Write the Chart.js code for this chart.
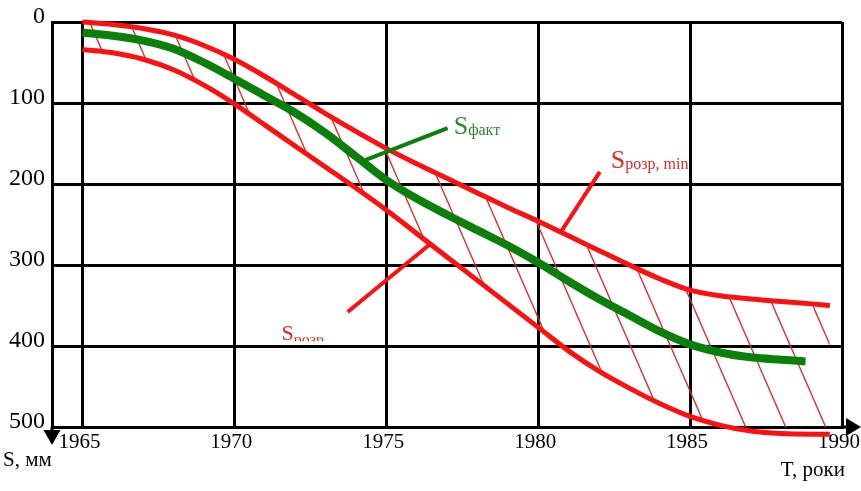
<!DOCTYPE html>
<html>
<head>
<meta charset="utf-8">
<script src="https://cdn.jsdelivr.net/npm/chart.js@4.4.1/dist/chart.umd.min.js"></script>
<style>
html,body{margin:0;padding:0;background:#fff;}
#wrap{width:861px;height:491px;position:relative;}
</style>
</head>
<body>
<div id="wrap"><canvas id="c" width="861" height="491"></canvas></div>
<script>
// ---- data ----
const xTicks = [1965, 1970, 1975, 1980, 1985, 1990];
const yTicks = [0, 100, 200, 300, 400, 500];

// S розр, min (upper red curve)
const sMinYears  = [1965, 1966, 1967, 1968, 1969, 1970, 1971, 1972, 1973, 1974, 1975, 1976, 1977, 1978, 1979, 1980, 1981, 1982, 1983, 1984, 1985, 1986, 1987, 1988, 1989, 1989.6];
const sMinValues = [0, 3, 8, 16, 29, 46, 67, 90, 113, 135, 156, 175, 193, 211, 229, 246, 264, 282, 300, 317, 331, 338, 342, 345, 348, 350];

// S факт (green curve)
const sFactYears  = [1965, 1966, 1967, 1968, 1969, 1970, 1971, 1972, 1973, 1974, 1975, 1976, 1977, 1978, 1979, 1980, 1981, 1982, 1983, 1984, 1985, 1986, 1987, 1988, 1988.8];
const sFactValues = [13, 17, 23, 33, 50, 70, 91, 112, 137, 166, 195, 218, 238, 257, 276, 297, 320, 342, 362, 382, 398, 408, 414, 417, 419];

// S розр (lower red curve)
const sMaxYears  = [1965, 1966, 1967, 1968, 1969, 1970, 1971, 1972, 1973, 1974, 1975, 1976, 1977, 1978, 1979, 1980, 1981, 1982, 1983, 1984, 1985, 1986, 1987, 1988, 1989.6];
const sMaxValues = [34, 38, 46, 59, 78, 101, 127, 153, 179, 205, 232, 261, 290, 319, 348, 377, 406, 431, 452, 471, 487, 498, 505, 508, 509];

// annotation labels: leader start on curve (year, S), leader end (year, S), text anchor (year, S)
const labelMain = ['S', 'S', 'S'];
const labelSub  = ['факт', 'розр, min', 'розр'];
const leaderFrom = [[1974.2, 172], [1980.75, 259], [1976.45, 274]];
const leaderTo   = [[1977.02, 131], [1982.03, 185], [1973.73, 358]];
const textAt     = [[1977.22, 138], [1982.39, 180], [1971.55, 393]];

// ---- drawing ----
const RED = '#ff1010';
const GREEN = '#0a800a';

function pts(xs, ys){ return xs.map((t,i)=>({x:t, y:ys[i]})); }

function makeHatch(){
  const w = 40, s = 2.3, h = Math.round(w*s);
  const c = document.createElement('canvas');
  c.width = w; c.height = h;
  const g = c.getContext('2d');
  g.strokeStyle = '#e4262c';
  g.lineWidth = 1.3;
  for (let k=-1;k<=1;k++){
    g.beginPath();
    g.moveTo(k*w - w, -h);
    g.lineTo(k*w + 2*w, 2*h);
    g.stroke();
  }
  return g.createPattern(c, 'repeat');
}

const SERIF = '"Liberation Serif", "Times New Roman", serif';

const extras = {
  id: 'extras',
  afterDraw(chart){
    const {ctx, chartArea:a, scales:{x, y}} = chart;
    ctx.save();
    // axis extensions + arrows
    ctx.strokeStyle = '#000'; ctx.fillStyle = '#000'; ctx.lineWidth = 3;
    ctx.beginPath(); ctx.moveTo(a.left, a.bottom); ctx.lineTo(a.left, a.bottom+6); ctx.stroke();
    ctx.beginPath(); ctx.moveTo(a.right, a.bottom); ctx.lineTo(a.right+6, a.bottom); ctx.stroke();
    ctx.beginPath();
    ctx.moveTo(a.left-8.5, a.bottom+3); ctx.lineTo(a.left+8.5, a.bottom+3); ctx.lineTo(a.left, a.bottom+18);
    ctx.closePath(); ctx.fill();
    ctx.beginPath();
    ctx.moveTo(a.right+4, a.bottom-9); ctx.lineTo(a.right+4, a.bottom+9); ctx.lineTo(a.right+19, a.bottom);
    ctx.closePath(); ctx.fill();

    // axis titles
    ctx.font = '21px ' + SERIF;
    ctx.textBaseline = 'alphabetic';
    ctx.textAlign = 'left';
    ctx.fillText('S, мм', 3, a.bottom + 39);
    ctx.textAlign = 'right';
    ctx.fillText('T, роки', a.right + 3, a.bottom + 49);

    // annotation leaders and labels
    const colors = [GREEN, RED, RED];
    const textColors = ['#2a8a2a', '#e52626', '#e52626'];
    for (let i=0;i<labelMain.length;i++){
      ctx.strokeStyle = colors[i]; ctx.lineWidth = 4; ctx.lineCap = 'butt';
      ctx.beginPath();
      ctx.moveTo(x.getPixelForValue(leaderFrom[i][0]), y.getPixelForValue(leaderFrom[i][1]));
      ctx.lineTo(x.getPixelForValue(leaderTo[i][0]), y.getPixelForValue(leaderTo[i][1]));
      ctx.stroke();

      const px = x.getPixelForValue(textAt[i][0]);
      const py = y.getPixelForValue(textAt[i][1]);
      const big = i === 2 ? 22 : 26;
      ctx.fillStyle = textColors[i];
      ctx.textAlign = 'left';
      ctx.font = big + 'px ' + SERIF;
      ctx.fillText(labelMain[i], px, py);
      const w = ctx.measureText(labelMain[i]).width;
      ctx.font = '16px ' + SERIF;
      if (i === 2){
        // the reference shows only a thin strip of this subscript
        ctx.save();
        ctx.beginPath();
        ctx.rect(px + w, py - 3, 60, 4);
        ctx.clip();
        ctx.fillText(labelSub[i], px + w, py + 5);
        ctx.restore();
      } else {
        ctx.fillText(labelSub[i], px + w, py + 1);
      }
    }
    ctx.restore();
  }
};

const chart = new Chart(document.getElementById('c'), {
  type: 'line',
  data: {
    datasets: [
      {
        label: 'Sрозр, min',
        data: pts(sMinYears, sMinValues),
        borderColor: RED, borderWidth: 5,
        pointRadius: 0, cubicInterpolationMode: 'monotone',
        fill: false, clip: false, order: 2
      },
      {
        label: 'Sрозр',
        data: pts(sMaxYears, sMaxValues),
        borderColor: RED, borderWidth: 5,
        pointRadius: 0, cubicInterpolationMode: 'monotone',
        fill: 0, backgroundColor: makeHatch(), clip: false, order: 1
      },
      {
        label: 'Sфакт',
        data: pts(sFactYears, sFactValues),
        borderColor: GREEN, borderWidth: 8,
        pointRadius: 0, cubicInterpolationMode: 'monotone',
        fill: false, clip: false, order: 0
      }
    ]
  },
  options: {
    responsive: false,
    animation: false,
    events: [],
    layout: { padding: { top: 22, right: 19, left: 0, bottom: 0 } },
    plugins: { legend: { display: false }, tooltip: { enabled: false }, title: { display: false } },
    scales: {
      x: {
        type: 'linear', min: 1964, max: 1990,
        afterBuildTicks: s => { s.ticks = xTicks.map(v => ({ value: v })); },
        afterFit: s => { s.height = 64; s.paddingLeft = 0; s.paddingRight = 0; },
        grid: { color: '#000', lineWidth: 3, drawTicks: false },
        border: { display: true, color: '#000', width: 3 },
        ticks: {
          color: '#000', padding: 3, maxRotation: 0, autoSkip: false, labelOffset: -3,
          font: { family: SERIF, size: 21 },
          callback: v => String(v)
        }
      },
      y: {
        type: 'linear', reverse: true, min: 0, max: 500,
        afterBuildTicks: s => { s.ticks = yTicks.map(v => ({ value: v })); },
        afterFit: s => { s.width = 52; s.paddingTop = 0; s.paddingBottom = 0; },
        grid: { color: '#000', lineWidth: 3, drawTicks: false },
        border: { display: true, color: '#000', width: 3 },
        ticks: {
          color: '#000', padding: 7, autoSkip: false, labelOffset: -5,
          font: { family: SERIF, size: 24 },
          callback: v => String(v)
        }
      }
    }
  },
  plugins: [extras]
});
</script>
</body>
</html>
